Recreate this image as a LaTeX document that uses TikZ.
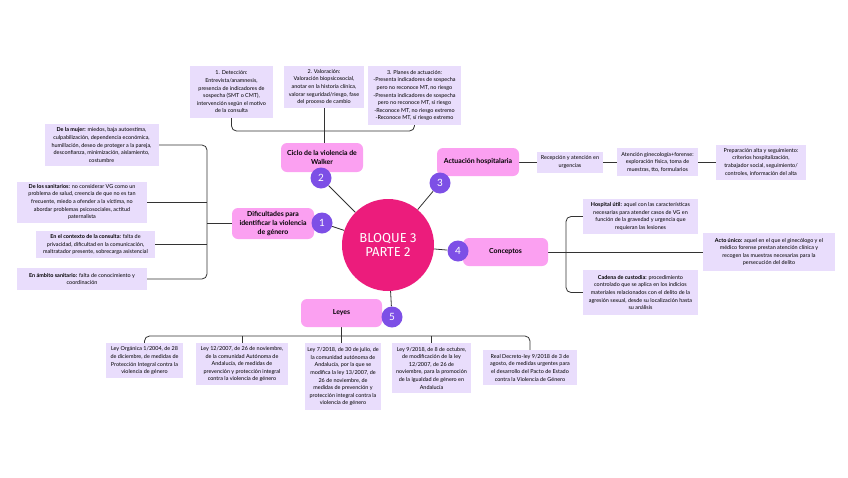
\documentclass[tikz,border=0pt]{standalone}
\usepackage{fontspec}
\setmainfont{Lato}
\newfontfamily\centerfont{Fira Sans}
\usetikzlibrary{backgrounds}
\definecolor{lav}{HTML}{E9DDFC}
\definecolor{pinkb}{HTML}{FBA0F1}
\definecolor{cpink}{HTML}{EC1C7C}
\definecolor{purp}{HTML}{7D4FE6}
\definecolor{linec}{HTML}{333333}
\tikzset{
  leaf/.style={fill=lav, align=center, font=\fontsize{5.45}{7.6}\selectfont, inner sep=1pt},
  mainbox/.style={fill=pinkb, rounded corners=6pt, align=center, font=\fontsize{6.9}{9}\selectfont\bfseries, inner sep=1pt},
  num/.style={circle, fill=purp, text=white, minimum size=21, inner sep=0pt, font=\fontsize{10}{10}\selectfont},
  conn/.style={draw=linec, line width=0.8pt, rounded corners=5pt}
}
\begin{document}
\begin{tikzpicture}[x=1pt,y=-1pt]
\begin{scope}[on background layer]
\fill[white] (0,0) rectangle (848,477);
\end{scope}
\useasboundingbox (0,0) rectangle (848,477);

% center
\node[circle, fill=cpink, minimum size=92, text=white, align=center, font=\centerfont\fontsize{13}{14.5}\selectfont] (c) at (388,245) {BLOQUE 3\\PARTE 2};

% main boxes
\node[mainbox, minimum width=82, minimum height=29] (ciclo) at (322,157.5) {Ciclo de la violencia de\\Walker};
\node[mainbox, minimum width=82, minimum height=28] (act) at (478,162) {Actuación hospitalaria};
\node[mainbox, minimum width=82, minimum height=31] (dif) at (273,223.5) {Dificultades para\\identificar la violencia\\de género};
\node[mainbox, minimum width=85, minimum height=28] (conc) at (505.5,252) {Conceptos};
\node[mainbox, minimum width=81, minimum height=28] (leyes) at (341.5,313) {Leyes};

% number circles
\node[num] (n1) at (322,223) {1};
\node[num] (n2) at (321,178) {2};
\node[num] (n3) at (440,183) {3};
\node[num] (n4) at (458,251) {4};
\node[num] (n5) at (392,317) {5};

% top leaves
\node[leaf, minimum width=83, minimum height=52] (t1) at (231.5,92) {1. Detección:\\Entrevista/anamnesis,\\presencia de indicadores de\\sospecha (SMT o CMT),\\intervención según el motivo\\de la consulta};
\node[leaf, minimum width=80, minimum height=42] (t2) at (324,87) {2. Valoración:\\Valoración biopsicosocial,\\anotar en la historia clínica,\\valorar seguridad/riesgo, fase\\del proceso de cambio};
\node[leaf, minimum width=93, minimum height=59] (t3) at (414.5,95.5) {3. Planes de actuación:\\-Presenta indicadores de sospecha\\pero no reconoce MT, no riesgo\\-Presenta indicadores de sospecha\\pero no reconoce MT, sí riesgo\\-Reconoce MT, no riesgo extremo\\-Reconoce MT, sí riesgo extremo};

% left leaves
\node[leaf, minimum width=114, minimum height=42] (mujer) at (101.5,145) {\textbf{De la mujer:} miedos, baja autoestima,\\culpabilización, dependencia económica,\\humillación, deseo de proteger a la pareja,\\desconfianza, minimización, aislamiento,\\costumbre};
\node[leaf, minimum width=130, minimum height=41] (san) at (82,202) {\textbf{De los sanitarios:} no considerar VG como un\\problema de salud, creencia de que no es tan\\frecuente, miedo a ofender a la víctima, no\\abordar problemas psicosociales, actitud\\paternalista};
\node[leaf, minimum width=119, minimum height=27] (ctx) at (95.5,244.5) {\textbf{En el contexto de la consulta:} falta de\\privacidad, dificultad en la comunicación,\\maltratador presente, sobrecarga asistencial};
\node[leaf, minimum width=130, minimum height=22] (amb) at (82,279) {\textbf{En ámbito sanitario:} falta de conocimiento y\\coordinación};

% right top leaves
\node[leaf, minimum width=66, minimum height=21] (rec) at (570,162) {Recepción y atención en\\urgencias};
\node[leaf, minimum width=81, minimum height=28] (aten) at (657.5,162) {Atención ginecología+forense:\\exploración física, toma de\\muestras, tto, formularios};
\node[leaf, minimum width=90, minimum height=35] (prep) at (761,162) {Preparación alta y seguimiento:\\criterios hospitalización,\\trabajador social, seguimiento/\\controles, información del alta};

% conceptos leaves
\node[leaf, minimum width=115, minimum height=35] (hosp) at (640.5,216.5) {\textbf{Hospital útil:} aquel con las características\\necesarias para atender casos de VG en\\función de la gravedad y urgencia que\\requieran las lesiones};
\node[leaf, minimum width=132, minimum height=38] (acto) at (769,252) {\textbf{Acto único:} aquel en el que el ginecólogo y el\\médico forense prestan atención clínica y\\recogen las muestras necesarias para la\\persecución del delito};
\node[leaf, minimum width=115, minimum height=45] (cad) at (640.5,292.5) {\textbf{Cadena de custodia:} procedimiento\\controlado que se aplica en los indicios\\materiales relacionados con el delito de la\\agresión sexual, desde su localización hasta\\su análisis};

% leyes leaves
\node[leaf, minimum width=77, minimum height=35, anchor=north] (l1) at (144.5,343) {Ley Orgánica 1/2004, de 28\\de diciembre, de medidas de\\Protección Integral contra la\\violencia de género};
\node[leaf, minimum width=92, minimum height=42, anchor=north] (l2) at (242,343) {Ley 12/2007, de 26 de noviembre,\\de la comunidad Autónoma de\\Andalucía, de medidas de\\prevención y protección integral\\contra la violencia de género};
\node[leaf, minimum width=76, minimum height=67, anchor=north] (l3) at (343,343) {Ley 7/2018, de 30 de julio, de\\la comunidad autónoma de\\Andalucía, por la que se\\modifica la ley 13/2007, de\\26 de noviembre, de\\medidas de prevención y\\protección integral contra la\\violencia de género};
\node[leaf, minimum width=79, minimum height=50, anchor=north] (l4) at (431.5,343) {Ley 9/2018, de 8 de octubre,\\de modificación de la ley\\12/2007, de 26 de\\noviembre, para la promoción\\de la igualdad de género en\\Andalucía};
\node[leaf, minimum width=94, minimum height=35, anchor=north] (l5) at (530,350) {Real Decreto-ley 9/2018 de 3 de\\agosto, de medidas urgentes para\\el desarrollo del Pacto de Estado\\contra la Violencia de Género};

\coordinate (cb) at (322,131);
\coordinate (trunkL) at (207,0);
\coordinate (trunkR) at (566,0);
\coordinate (lb) at (341.5,336);

\begin{scope}[on background layer]
% center to numbers
\draw[conn] (c) -- (n1);
\draw[conn] (c) -- (n2);
\draw[conn] (c) -- (n3);
\draw[conn] (c) -- (n4);
\draw[conn] (c) -- (n5);
% ciclo
\draw[conn] (t1.south) |- (cb) -| (t3.south);
\draw[conn] (t2.south) -- (t2.south |- ciclo.north);
% dificultades
\draw[conn] (mujer.east) -| (trunkL |- amb.east) -- (amb.east);
\draw[conn] (san.east) -- (san.east -| trunkL);
\draw[conn] (ctx.east) -- (ctx.east -| trunkL);
\draw[conn] (dif.west) -- (dif.west -| trunkL);
% actuacion
\draw[conn] (act.east) -- (rec.west);
\draw[conn] (rec.east) -- (aten.west);
\draw[conn] (aten.east) -- (prep.west);
% conceptos
\draw[conn] (conc.east) -- (acto.west);
\draw[conn] (hosp.west) -| (trunkR |- cad.west) -- (cad.west);
% leyes
\draw[conn] (l1.north) |- (lb) -| (l5.north);
\draw[conn] (leyes.south) -- (leyes.south |- l3.north);
\draw[conn] (l2.north) -- (l2.north |- lb);
\draw[conn] (l4.north) -- (l4.north |- lb);
\end{scope}
\end{tikzpicture}
\end{document}
